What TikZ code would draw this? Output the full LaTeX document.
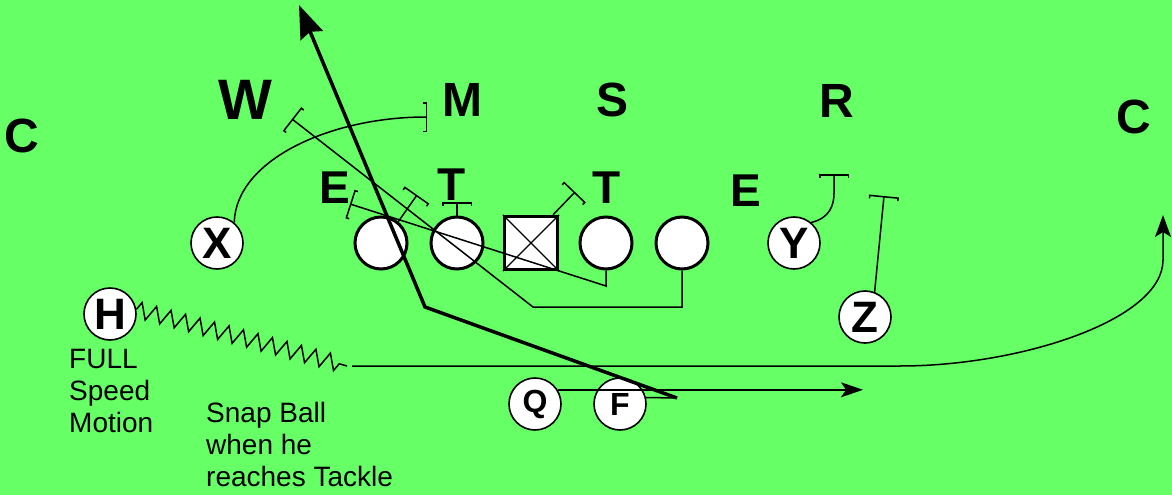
\documentclass[tikz,border=0pt]{standalone}
\usepackage{fontspec}
\setmainfont{Liberation Sans}
\usetikzlibrary{arrows.meta,decorations.pathmorphing}
\definecolor{field}{RGB}{102,255,102}
\begin{document}
\begin{tikzpicture}[x=1pt,y=-1pt,
  player/.style={circle,draw,fill=white,line width=1.6pt,minimum size=52pt,inner sep=0pt,font=\bfseries\fontsize{44}{44}\selectfont},
  smallplayer/.style={player,font=\bfseries\fontsize{32}{32}\selectfont},
  lineman/.style={circle,draw,fill=white,line width=3pt,minimum size=52pt,inner sep=0pt},
  ctrbox/.style={draw,fill=white,line width=3.2pt,minimum size=53pt,inner sep=0pt},
  defl/.style={font=\bfseries\fontsize{48}{48}\selectfont,inner sep=0pt},
  defs/.style={font=\bfseries\fontsize{46}{46}\selectfont,inner sep=0pt},
  txt/.style={anchor=north west,align=left,inner sep=0pt,font=\fontsize{28}{32}\selectfont},
  route/.style={line width=1.5pt},
  blk/.style={route,-{Bracket[width=30pt,length=3pt]}},
  thick route/.style={line width=3.5pt,line join=round},
]
\fill[field] (0,0) rectangle (1172,495);
\useasboundingbox (0,0) rectangle (1172,495);

% offense
\node[player] (X) at (217,243) {X};
\node[lineman] (C1) at (381,243) {};
\node[lineman] (C2) at (457,243) {};
\node[ctrbox] (c) at (531,243) {};
\draw[line width=1.2pt] (c.north west) -- (c.south east) (c.north east) -- (c.south west);
\node[lineman] (C4) at (606,243) {};
\node[lineman] (C5) at (682,243) {};
\node[player] (Y) at (794,243) {Y};
\node[player] (Z) at (865,317) {Z};
\node[player] (H) at (110,314) {H};
\node[smallplayer] (Q) at (535,404) {Q};
\node[smallplayer] (F) at (620,404) {F};

% defense
\node[defl] (Cl) at (22,136) {C};
\node[defl,font=\bfseries\fontsize{57}{57}\selectfont] (W) at (245,100) {W};
\node[defl] (M) at (462,100) {M};
\node[defl] (S) at (612,100) {S};
\node[defl] (R) at (837,101) {R};
\node[defl] (Cr) at (1134,117) {C};
\node[defs] (E1) at (335,188) {E};
\node[defs] (T1) at (452,185) {T};
\node[defs] (T2) at (607,188) {T};
\node[defs] (E2) at (746,191) {E};

% coordinates
\coordinate (xb) at (427,117);
\coordinate (wb) at (292,119);
\coordinate (r1) at (682,307);
\coordinate (r1b) at (533,307);
\coordinate (r2) at (606,286);
\coordinate (eb) at (350,204);
\coordinate (t1b) at (417,195);
\coordinate (t2b) at (457,202);
\coordinate (sqb) at (575,192);
\coordinate (yb) at (834,174);
\coordinate (zb) at (884,196);
\coordinate (fk) at (677,398);
\coordinate (fb) at (425,307);
\coordinate (ftip) at (299,5);
\coordinate (qend) at (863,390);
\coordinate (hz) at (340,364);
\coordinate (hz2) at (347,366);
\coordinate (hs) at (352,366);
\coordinate (hm) at (900,366);
\coordinate (harr) at (1163,215);

% routes and blocks
\draw[blk] (X.50) .. controls (236,160) and (330,117) .. (xb);
\draw[blk] (C5.south) -- (r1) -- (r1b) -- (wb);
\draw[blk] (C4.south) -- (r2) -- (eb);
\draw[blk] (C1.51) -- (t1b);
\draw[blk] (C2.north) -- (t2b);
\draw[blk] (c.52) -- (sqb);
\draw[blk] (Y.50) .. controls (830,218) and (834,205) .. (834,193) -- (yb);
\draw[blk] (Z.69) -- (zb);

% F and Q
\draw[route] (F.14) -- (fk);
\draw[thick route,-{Stealth[length=33pt,width=24pt,inset=4pt]}] (fk) -- (fb) -- (ftip);
\draw[route,-{Stealth[length=22pt,width=15pt,inset=5pt]}] (Q.32) -- (qend |- Q.32);

% H motion
\draw[route,decorate,decoration={zigzag,segment length=15pt,amplitude=8pt}] (H.10) -- (hz);
\draw[route] (hz) -- (hz2);
\draw[route,-{Stealth[length=22pt,width=16pt,inset=5pt]}] (hs) -- (hm) .. controls (1020,366) and (1163,320) .. (1163,260) -- (harr);

% texts
\node[txt] (mot) at (69,349) {FULL\\Speed\\Motion};
\node[txt] (snap) at (206,402) {Snap Ball\\when he\\reaches Tackle};
\end{tikzpicture}
\end{document}
